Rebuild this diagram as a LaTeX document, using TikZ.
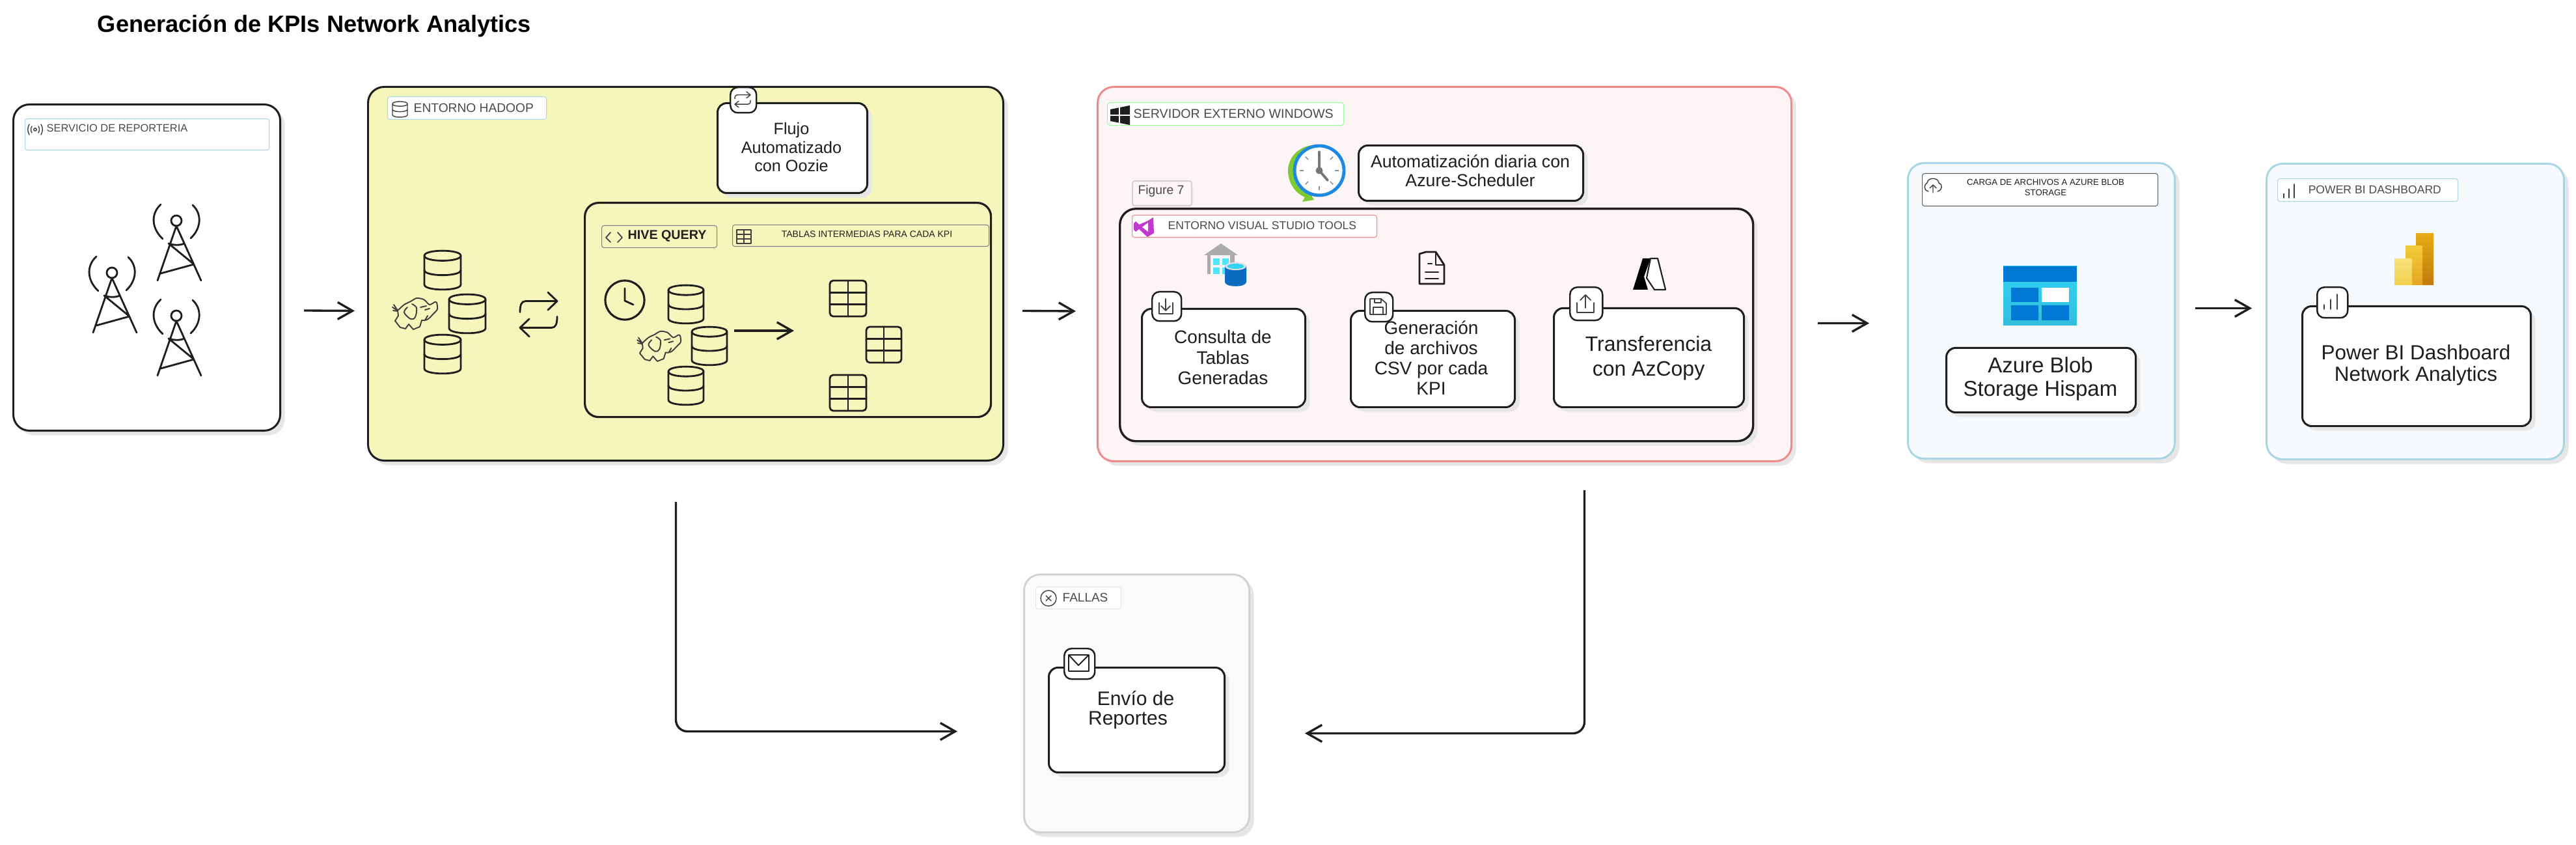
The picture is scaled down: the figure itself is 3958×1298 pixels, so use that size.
\documentclass[tikz,border=0pt]{standalone}
\usepackage{fontspec}
\setmainfont{Liberation Sans}
\usetikzlibrary{arrows.meta,shadows}
\definecolor{ink}{HTML}{1E1E1E}
\definecolor{labtxt}{HTML}{4A4A4A}
\definecolor{shad}{HTML}{E6E6E6}
\definecolor{yel}{HTML}{F5F6BC}
\definecolor{rosa}{HTML}{FDF4F5}
\definecolor{rosaS}{HTML}{F08A8A}
\definecolor{azul}{HTML}{F6FAFD}
\definecolor{azulS}{HTML}{A9D6E5}
\definecolor{gris}{HTML}{FAFAFA}
\definecolor{grisS}{HTML}{D2D2D2}
\definecolor{msblue}{HTML}{0078D4}
\definecolor{mscyan}{HTML}{32D4F5}
\definecolor{msbot}{HTML}{32BEDD}
\definecolor{vsp}{HTML}{C239D0}
\definecolor{clockg}{HTML}{7DCB32}
\definecolor{clockb}{HTML}{1E88E5}
\definecolor{handg}{HTML}{777777}
\definecolor{roofg}{HTML}{ABABAB}
\definecolor{winc}{HTML}{50E6FF}
\definecolor{cylb}{HTML}{0D6CC0}
\definecolor{pbiAt}{HTML}{E6AA12}
\definecolor{pbiAb}{HTML}{C27A0E}
\definecolor{pbiBt}{HTML}{F2CB3C}
\definecolor{pbiBb}{HTML}{E3A620}
\definecolor{pbiCt}{HTML}{F8E27C}
\definecolor{pbiCb}{HTML}{F2CF4C}
\tikzset{
 sh/.style={drop shadow={shadow xshift=0.07cm,shadow yshift=-0.07cm,fill=shad,opacity=1}},
 card/.style={draw=ink,line width=.85pt,rounded corners=4pt,fill=white,sh},
 big/.style={line width=.85pt,rounded corners=7pt,sh},
 inner/.style={draw=ink,line width=.9pt,rounded corners=6pt},
 tagbox/.style={draw=ink,line width=.7pt,rounded corners=3.2pt,fill=white},
 lab/.style={line width=.3pt,rounded corners=1pt,fill=white},
 txt/.style={inner sep=0pt,align=center,text=ink},
 labt/.style={inner sep=0pt,align=center,text=labtxt},
 icon/.style={draw=ink,line width=.8pt,line cap=round,line join=round},
 thin icon/.style={draw=ink!85,line width=.4pt,line cap=round,line join=round},
 conn/.style={draw=ink,line width=.95pt,-{Straight Barb[length=6.5pt,width=7.4pt]}},
}
\newcommand\bx[6]{\pgfmathsetmacro\bw{(#5-#3)*0.01}\pgfmathsetmacro\bh{(#6-#4)*0.01}%
 \node[#1,minimum width=\bw cm,minimum height=\bh cm,anchor=north west,inner sep=0pt] (#2) at (#3,#4) {};}
\newcommand\dbicon[4]{\begin{scope}[shift={(#1,#2)},xscale=#3,yscale=#4]
 \path[icon] (0,.13) .. controls (0,-.04) and (1,-.04) .. (1,.13) -- (1,.87) .. controls (1,1.04) and (0,1.04) .. (0,.87) -- cycle;
 \path[icon] (0,.13) .. controls (0,.3) and (1,.3) .. (1,.13);
 \path[icon] (0,.5) .. controls (0,.67) and (1,.67) .. (1,.5);
\end{scope}}
\newcommand\tableicon[4]{\begin{scope}[shift={(#1,#2)},xscale=#3,yscale=#4]
 \path[icon,rounded corners=1.5pt] (0,0) rectangle (1,1);
 \path[icon] (.5,0) -- (.5,1) (0,.33) -- (1,.33) (0,.66) -- (1,.66);
\end{scope}}
\newcommand\swapicon[5]{\begin{scope}[shift={(#1,#2)},xscale=#3,yscale=#4]
 \path[#5] (0,.45) .. controls (0,.28) and (.04,.2) .. (.15,.2) -- (1,.2) (.75,0) -- (1,.2) -- (.75,.4);
 \path[#5] (1,.55) .. controls (1,.72) and (.96,.8) .. (.85,.8) -- (0,.8) (.25,.6) -- (0,.8) -- (.25,1);
\end{scope}}
\newcommand\tower[2]{\begin{scope}[shift={(#1,#2)}]
 \path[icon] (0,0) circle[radius=8];
 \path[icon] (0,8) -- (-29,92) (0,8) -- (38,92) (-12,35) .. controls (-4,38) and (6,38) .. (12,35) (-12,35) -- (27,67) -- (-24,81);
 \path[icon] (-24,-25) .. controls (-40,-10) and (-38,12) .. (-21,28) (25,-24) .. controls (40,-10) and (38,12) .. (22,27);
\end{scope}}
\newcommand\elephant[4]{\begin{scope}[shift={(#1,#2)},xscale=#3,yscale=#4,line width=.55pt]
 \path[thin icon,line width=.55pt] plot[smooth,tension=.45] coordinates {(8,22) (18,13) (28,8) (37,3) (48,5) (57,13) (65,9) (68,10) (69,20) (62,28) (55,35) (50,37) (45,37)};
 \path[thin icon,line width=.55pt] (45,37) -- (42,47) -- (32,51) -- (25,43) -- (20,50) -- (12,48) -- (4,38) -- (9,30) -- (8,22);
 \path[thin icon,line width=.55pt] plot[smooth,tension=.6] coordinates {(30,12) (37,18) (35,32) (28,35) (18,25) (23,17)};
 \path[thin icon,line width=.55pt] (8,22) -- (0,17) (8,22) -- (2,13) (8,23) -- (1,22);
 \path[thin icon,line width=.55pt] (43,17) -- (52,15) (50,21) -- (57,19) (50,37) -- (54,30);
\end{scope}}
\newcommand\barsicon[4]{\begin{scope}[shift={(#1,#2)},xscale=#3,yscale=#4]
 \path[thin icon,line width=.5pt] (0,.7) -- (0,1) (.5,.35) -- (.5,1) (1,0) -- (1,1);
\end{scope}}
\begin{document}
\begin{tikzpicture}[x=0.01cm,y=-0.01cm]
\useasboundingbox (0,0) rectangle (3958,1298);
\fill[white] (0,0) rectangle (3958,1298);
% title
\node[txt,font=\fontsize{10.3}{12}\selectfont\bfseries,text=black] (titulo) at (483,40) {Generación de KPIs Network Analytics};

% servicio
\bx{big,draw=ink,fill=white}{svc}{19}{159}{429}{660}
\bx{lab,draw=azulS}{svcL}{38}{182}{413}{230}
\node[labt,anchor=west,font=\fontsize{4.67}{6}\selectfont] (svcT) at (71,197) {SERVICIO DE REPORTERIA};
\begin{scope}[shift={(54,199)}]
 \path[thin icon] (0,0) circle[radius=2.2] (-5,-5) .. controls (-7,-2) and (-7,2) .. (-5,5) (5,-5) .. controls (7,-2) and (7,2) .. (5,5) (-9,-8) .. controls (-12,-3) and (-12,3) .. (-9,8) (9,-8) .. controls (12,-3) and (12,3) .. (9,8);
\end{scope}
\tower{271}{339}
\tower{172}{419}
\tower{271}{485}

% hadoop
\bx{big,draw=ink,fill=yel}{had}{564}{132}{1540}{706}
\bx{lab,draw=azulS}{hadL}{595}{148}{839}{183}
\node[labt,anchor=west,font=\fontsize{5.46}{7}\selectfont] (hadT) at (635,166) {ENTORNO HADOOP};
\begin{scope}[shift={(603,156)},xscale=23,yscale=24]
 \path[thin icon] (0,.15) .. controls (0,-.05) and (1,-.05) .. (1,.15) -- (1,.85) .. controls (1,1.05) and (0,1.05) .. (0,.85) -- cycle (0,.15) .. controls (0,.35) and (1,.35) .. (1,.15) (0,.5) .. controls (0,.7) and (1,.7) .. (1,.5);
\end{scope}
\dbicon{652}{385}{56}{60}
\dbicon{690}{452}{56}{60}
\dbicon{652}{514}{56}{60}
\elephant{603}{455}{1}{1}
\swapicon{799}{449}{57}{68}{icon}

\bx{card}{flujo}{1101}{157}{1331}{295}
\node[txt,font=\fontsize{7.17}{7.97}\selectfont] (flujoT) at (1216,226) {Flujo\\Automatizado\\con Oozie};
\bx{tagbox}{flujoTag}{1121}{133}{1161}{172}
\swapicon{1129}{141}{24}{24}{thin icon}

\bx{inner}{hive}{897}{310}{1521}{639}
\bx{lab,draw=ink!55,fill=yel}{hiveL}{924}{346}{1101}{380}
\node[txt,anchor=west,font=\fontsize{5.6}{7}\selectfont\bfseries] (hiveT) at (964,363) {HIVE QUERY};
\path[thin icon,line width=.5pt] (938,357) -- (931,365) -- (938,372) (949,357) -- (956,365) -- (949,372);
\bx{lab,draw=ink!55,fill=yel}{tabL}{1125}{345}{1519}{378}
\node[txt,font=\fontsize{3.98}{5}\selectfont] (tabT) at (1332,360) {TABLAS INTERMEDIAS PARA CADA KPI};
\begin{scope}[shift={(1132,353)},xscale=22,yscale=21]
 \path[thin icon,line width=.5pt] (0,0) rectangle (1,1) (.5,0) -- (.5,1) (0,.33) -- (1,.33) (0,.66) -- (1,.66);
\end{scope}
\path[icon,line width=.9pt] (960,461) circle[radius=30];
\path[icon] (960,443) -- (960,462) -- (973,468);
\dbicon{1027}{438}{54}{59}
\dbicon{1063}{502}{54}{59}
\dbicon{1027}{563}{54}{59}
\elephant{979}{506}{.97}{.96}
\coordinate (hiveA) at (1128,508);
\coordinate (hiveB) at (1220,508);
\draw[conn] (hiveA) -- (hiveB);
\tableicon{1275}{431}{56}{55}
\tableicon{1331}{502}{54}{55}
\tableicon{1275}{576}{56}{55}

% windows
\bx{big,draw=rosaS,fill=rosa}{win}{1685}{132}{2751}{707}
\bx{lab,draw=green!40!white}{winL}{1701}{157}{2064}{192}
\node[labt,anchor=west,font=\fontsize{5.58}{7}\selectfont] (winT) at (1741,175) {SERVIDOR EXTERNO WINDOWS};
\fill[ink] (1706,168) -- (1736,162) -- (1736,192) -- (1706,186) -- cycle;
\draw[white,line width=.4pt] (1706,177) -- (1736,177) (1720,160) -- (1720,194);
% clock
\fill[clockg] (2027,222) .. controls (1992,222) and (1979,245) .. (1979,262) .. controls (1979,285) and (1995,302) .. (2012,305) -- (2027,290) -- cycle;
\fill[clockg] (2010,293) -- (2019,307) -- (2001,310) -- cycle;
\draw[clockb,line width=1.4pt,fill=white] (2027,262) circle[radius=38];
\foreach \a in {0,45,...,315} {\draw[handg!80!white,line width=.45pt] ([shift={(2027,262)}]\a:24) -- ([shift={(2027,262)}]\a:30);}
\draw[handg,line width=1.1pt,line cap=round] (2027,233) -- (2027,262) -- (2040,277);
\fill[handg] (2027,262) circle[radius=5.5];
\bx{card}{auto}{2086}{222}{2431}{307}
\node[txt,font=\fontsize{7.6}{8.3}\selectfont] (autoT) at (2259,262) {Automatización diaria con\\Azure-Scheduler};
\bx{lab,draw=grisS,line width=.6pt,fill=rosa}{fig}{1739}{277}{1830}{315}
\node[labt,font=\fontsize{5.5}{7}\selectfont] (figT) at (1784,294) {Figure 7};

\bx{big,draw=ink,line width=.95pt,fill=rosa}{vs}{1719}{319}{2692}{676}
\bx{lab,draw=rosaS}{vsL}{1739}{330}{2115}{364}
\node[labt,anchor=west,font=\fontsize{4.98}{6}\selectfont] (vsT) at (1794,346) {ENTORNO VISUAL STUDIO TOOLS};
\fill[vsp] (1762,340) -- (1772,334) -- (1773,358) -- (1763,364) -- (1750,352) -- (1745,356) -- (1742,353) -- (1742,343) -- (1745,340) -- (1750,345) -- cycle;
\fill[white] (1755,349) -- (1764,342) -- (1764,356) -- cycle;
% warehouse
\fill[roofg] (1876,374) -- (1902,392) -- (1850,392) -- cycle;
\fill[roofg] (1855,392) rectangle (1860,421);
\fill[roofg] (1890,392) rectangle (1897,405);
\fill[winc] (1864,397) rectangle (1874,407) (1878,397) rectangle (1888,407) (1864,411) rectangle (1874,421) (1878,411) rectangle (1888,421);
\fill[cylb] (1882,408) -- (1882,433) .. controls (1882,442) and (1915,442) .. (1915,433) -- (1915,408) -- cycle;
\fill[black!12] (1898.5,409) ellipse[x radius=16.5,y radius=6];
\fill[mscyan] (1898.5,409) ellipse[x radius=13,y radius=4];
% doc
\path[icon] (2191,387) -- (2206,387) -- (2219,407) -- (2219,436) -- (2181,436) -- (2181,390) -- cycle;
\path[icon,line width=.6pt] (2206,387) -- (2206,407) -- (2219,407) (2194,405) -- (2200,405) (2190,418) -- (2210,418) (2190,428) -- (2210,428);
% azure
\fill[black] (2524,397) -- (2536,397) -- (2526,425) -- (2532,445) -- (2509,445) -- cycle;
\path[icon,line width=.6pt,fill=white] (2536,397) -- (2547,397) -- (2559,445) -- (2542,445) -- (2530,427) -- cycle;

\bx{card}{cons}{1753}{473}{2004}{624}
\node[txt,font=\fontsize{7.97}{8.9}\selectfont] (consT) at (1879,549) {Consulta de\\Tablas\\Generadas};
\bx{tagbox}{consTag}{1769}{447}{1814}{492}
\path[thin icon,line width=.5pt] (1781,465) -- (1781,482) -- (1802,482) -- (1802,465) (1791,459) -- (1791,477) (1784,470) -- (1791,477) -- (1798,470);
\bx{card}{gen}{2074}{476}{2326}{624}
\node[txt,font=\fontsize{7.97}{8.85}\selectfont] (genT) at (2199,550) {Generación\\de archivos\\CSV por cada\\KPI};
\bx{tagbox}{genTag}{2096}{448}{2139}{493}
\path[thin icon,line width=.5pt] (2105,459) -- (2122,459) -- (2130,466) -- (2130,483) -- (2105,483) -- cycle (2110,483) -- (2110,472) -- (2125,472) -- (2125,483) (2112,459) -- (2112,465) -- (2122,465) -- (2122,459);
\bx{card}{trans}{2386}{472}{2678}{624}
\node[txt,font=\fontsize{9.1}{10.8}\selectfont] (transT) at (2533,550) {Transferencia\\con AzCopy};
\bx{tagbox}{transTag}{2411}{440}{2461}{491}
\path[thin icon,line width=.5pt] (2423,465) -- (2423,480) -- (2449,480) -- (2449,465) (2436,453) -- (2436,473) (2428,461) -- (2436,453) -- (2444,461);

% blob
\bx{big,draw=azulS,fill=azul}{blob}{2930}{249}{3340}{703}
\bx{lab,draw=ink!70}{blobL}{2953}{266}{3315}{316}
\node[txt,font=\fontsize{3.76}{4.3}\selectfont] (blobT) at (3143,288) {CARGA DE ARCHIVOS A AZURE BLOB\\STORAGE};
\begin{scope}[shift={(2970,284)}]
 \path[thin icon] (-7,10) .. controls (-16,8) and (-13,-2) .. (-9,-3) .. controls (-8,-12) and (8,-12) .. (9,-3) .. controls (15,-1) and (15,8) .. (7,10) (0,12) -- (0,0) (-5,5) -- (0,0) -- (5,5);
\end{scope}
\shade[top color=mscyan,bottom color=msbot] (3078,409) rectangle (3191,500);
\fill[msblue] (3078,409) rectangle (3191,433);
\fill[msblue] (3090,442) rectangle (3132,464) (3090,469) rectangle (3132,492) (3137,469) rectangle (3179,492);
\fill[white] (3137,442) rectangle (3179,464);
\bx{card}{blobB}{2989}{533}{3280}{632}
\node[txt,font=\fontsize{9.39}{10.2}\selectfont] (blobBT) at (3135,582) {Azure Blob\\Storage Hispam};

% pbi
\bx{big,draw=azulS,fill=azul}{pbi}{3481}{250}{3938}{704}
\bx{lab,draw=azulS}{pbiL}{3499}{274}{3776}{309}
\node[labt,anchor=west,font=\fontsize{5}{6}\selectfont] (pbiT) at (3546,291) {POWER BI DASHBOARD};
\barsicon{3509}{283}{16}{21}
\shade[top color=pbiAt,bottom color=pbiAb] (3712,359) rectangle (3739,438);
\shade[top color=pbiBt,bottom color=pbiBb] (3696,378) rectangle (3722,438);
\shade[top color=pbiCt,bottom color=pbiCb] (3679,398) rectangle (3706,438);
\bx{card}{pbiB}{3536}{469}{3887}{653}
\node[txt,font=\fontsize{8.96}{9.4}\selectfont] (pbiBT) at (3712,561) {Power BI Dashboard\\Network Analytics};
\bx{tagbox}{pbiTag}{3559}{440}{3606}{487}
\barsicon{3571}{452}{20}{23}

% fallas
\bx{big,draw=grisS,fill=gris}{fal}{1572}{881}{1918}{1277}
\bx{lab,draw=grisS!60}{falL}{1591}{901}{1722}{935}
\node[labt,anchor=west,font=\fontsize{5.4}{7}\selectfont] (falT) at (1632,918) {FALLAS};
\path[thin icon] (1611,919) circle[radius=12] (1607,915) -- (1615,923) (1615,915) -- (1607,923);
\bx{card}{env}{1610}{1024}{1880}{1185}
\node[txt,font=\fontsize{8.54}{9}\selectfont] (envT1) at (1745,1073) {Envío de};
\node[txt,font=\fontsize{8.54}{9}\selectfont] (envT2) at (1733,1106) {Reportes};
\bx{tagbox}{envTag}{1634}{995}{1681}{1042}
\path[icon,line width=.55pt] (1642,1006) rectangle (1673,1031) (1642,1006) -- (1657,1022) -- (1673,1006);

% connectors
\draw[conn] ([shift={(35,66)}]svc.east) -- ([shift={(-19,57)}]had.west);
\draw[conn] ([shift={(28,57)}]had.east) -- ([shift={(-32,57)}]win.west);
\draw[conn] ([shift={(39,75.5)}]win.east) -- ([shift={(-58,19)}]blob.west);
\draw[conn] ([shift={(30,-4)}]blob.east) -- ([shift={(-21,-5)}]pbi.west);
\draw[conn,rounded corners=5pt] ([shift={(-15,62)}]had.south) |- ([shift={(-101,43)}]fal.west);
\draw[conn,rounded corners=5pt] ([shift={(215,43)}]win.south) |- ([shift={(84,46)}]fal.east);
\end{tikzpicture}
\end{document}
